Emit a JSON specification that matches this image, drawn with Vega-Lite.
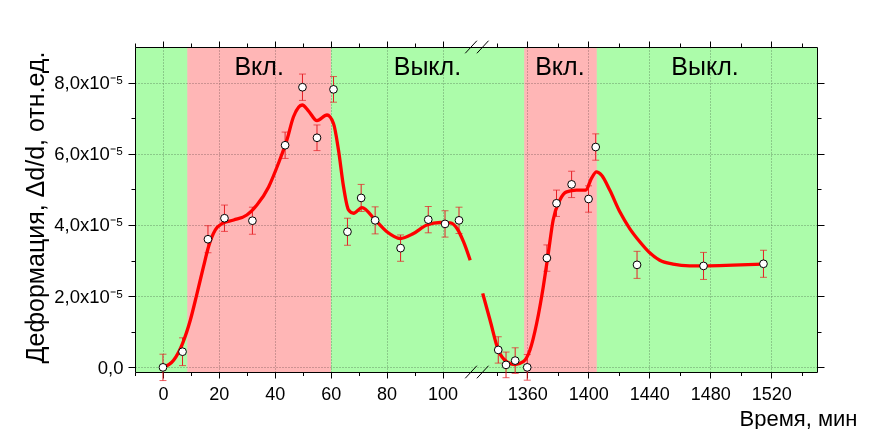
{
  "$schema": "https://vega.github.io/schema/vega-lite/v6.json",
  "width": 682,
  "height": 325,
  "autosize": {"type": "none"},
  "padding": {"left": 135, "top": 47, "right": 60, "bottom": 57},
  "background": "white",
  "config": {
    "view": {"stroke": null},
    "font": "Liberation Sans",
    "axis": {
      "domainColor": "black",
      "domainWidth": 1,
      "tickColor": "black",
      "tickWidth": 1,
      "labelColor": "black",
      "labelFont": "Liberation Sans",
      "labelFontSize": 18,
      "labelOverlap": false,
      "labelFlush": false,
      "titleColor": "black",
      "titleFont": "Liberation Sans",
      "titleFontWeight": "normal",
      "titleFontSize": 25,
      "gridColor": "#9a9a9a",
      "gridDash": [1, 2],
      "gridWidth": 1
    }
  },
  "datasets": {
    "bands": [
      {"state": "off", "start": -10, "end": 8.7},
      {"state": "on", "start": 8.7, "end": 60.1},
      {"state": "off", "start": 60.1, "end": 1358},
      {"state": "on", "start": 1358, "end": 1405.6},
      {"state": "off", "start": 1405.6, "end": 1550}
    ],
    "points": [
      {"t": 0, "strain": 0.0, "err": 0.37e-5},
      {"t": 7.0, "strain": 0.44e-5, "err": 0.39e-5},
      {"t": 16.1, "strain": 3.6e-5, "err": 0.38e-5},
      {"t": 22.0, "strain": 4.19e-5, "err": 0.37e-5},
      {"t": 32.0, "strain": 4.12e-5, "err": 0.38e-5},
      {"t": 43.7, "strain": 6.24e-5, "err": 0.37e-5},
      {"t": 49.9, "strain": 7.87e-5, "err": 0.37e-5},
      {"t": 55.1, "strain": 6.45e-5, "err": 0.36e-5},
      {"t": 61.0, "strain": 7.81e-5, "err": 0.36e-5},
      {"t": 66.0, "strain": 3.81e-5, "err": 0.38e-5},
      {"t": 70.9, "strain": 4.76e-5, "err": 0.38e-5},
      {"t": 75.9, "strain": 4.13e-5, "err": 0.38e-5},
      {"t": 85.0, "strain": 3.35e-5, "err": 0.37e-5},
      {"t": 94.9, "strain": 4.15e-5, "err": 0.37e-5},
      {"t": 100.9, "strain": 4.03e-5, "err": 0.37e-5},
      {"t": 105.9, "strain": 4.13e-5, "err": 0.37e-5},
      {"t": 1341, "strain": 0.49e-5, "err": 0.37e-5},
      {"t": 1346.1, "strain": 0.07e-5, "err": 0.36e-5},
      {"t": 1352.1, "strain": 0.19e-5, "err": 0.36e-5},
      {"t": 1360, "strain": 0.0, "err": 0.36e-5},
      {"t": 1372.9, "strain": 3.07e-5, "err": 0.37e-5},
      {"t": 1379.2, "strain": 4.61e-5, "err": 0.37e-5},
      {"t": 1389.1, "strain": 5.14e-5, "err": 0.37e-5},
      {"t": 1400.2, "strain": 4.73e-5, "err": 0.37e-5},
      {"t": 1404.9, "strain": 6.19e-5, "err": 0.37e-5},
      {"t": 1432.0, "strain": 2.88e-5, "err": 0.38e-5},
      {"t": 1475.6, "strain": 2.85e-5, "err": 0.38e-5},
      {"t": 1514.9, "strain": 2.91e-5, "err": 0.38e-5}
    ],
    "fit": [
      {"seg": "a", "t": 0, "strain": 0.0},
      {"seg": "a", "t": 3.8, "strain": 0.2e-5},
      {"seg": "a", "t": 7.0, "strain": 0.67e-5},
      {"seg": "a", "t": 9.8, "strain": 1.33e-5},
      {"seg": "a", "t": 12.2, "strain": 2.08e-5},
      {"seg": "a", "t": 14.5, "strain": 2.83e-5},
      {"seg": "a", "t": 16.3, "strain": 3.39e-5},
      {"seg": "a", "t": 18.7, "strain": 3.86e-5},
      {"seg": "a", "t": 21.1, "strain": 4.04e-5},
      {"seg": "a", "t": 25.3, "strain": 4.14e-5},
      {"seg": "a", "t": 30.0, "strain": 4.28e-5},
      {"seg": "a", "t": 33.6, "strain": 4.56e-5},
      {"seg": "a", "t": 37.8, "strain": 5.07e-5},
      {"seg": "a", "t": 41.3, "strain": 5.73e-5},
      {"seg": "a", "t": 44.3, "strain": 6.38e-5},
      {"seg": "a", "t": 46.7, "strain": 7.04e-5},
      {"seg": "a", "t": 49.8, "strain": 7.37e-5},
      {"seg": "a", "t": 52.1, "strain": 7.2e-5},
      {"seg": "a", "t": 55.1, "strain": 6.93e-5},
      {"seg": "a", "t": 58.7, "strain": 7.09e-5},
      {"seg": "a", "t": 61.0, "strain": 6.85e-5},
      {"seg": "a", "t": 62.8, "strain": 6.1e-5},
      {"seg": "a", "t": 64.6, "strain": 5.07e-5},
      {"seg": "a", "t": 66.4, "strain": 4.42e-5},
      {"seg": "a", "t": 68.2, "strain": 4.33e-5},
      {"seg": "a", "t": 71.2, "strain": 4.49e-5},
      {"seg": "a", "t": 75.9, "strain": 4.14e-5},
      {"seg": "a", "t": 80.1, "strain": 3.81e-5},
      {"seg": "a", "t": 84.9, "strain": 3.62e-5},
      {"seg": "a", "t": 89.6, "strain": 3.76e-5},
      {"seg": "a", "t": 94.4, "strain": 4.0e-5},
      {"seg": "a", "t": 99.2, "strain": 4.07e-5},
      {"seg": "a", "t": 102.8, "strain": 4.06e-5},
      {"seg": "a", "t": 105.2, "strain": 3.9e-5},
      {"seg": "a", "t": 107.5, "strain": 3.53e-5},
      {"seg": "a", "t": 109.9, "strain": 3.01e-5},
      {"seg": "b", "t": 1330.8, "strain": 2.08e-5},
      {"seg": "b", "t": 1335.6, "strain": 1.33e-5},
      {"seg": "b", "t": 1341, "strain": 0.49e-5},
      {"seg": "b", "t": 1346.5, "strain": 0.16e-5},
      {"seg": "b", "t": 1352, "strain": 0.08e-5},
      {"seg": "b", "t": 1357.4, "strain": 0.16e-5},
      {"seg": "b", "t": 1361.8, "strain": 0.49e-5},
      {"seg": "b", "t": 1366.2, "strain": 1.24e-5},
      {"seg": "b", "t": 1370.5, "strain": 2.26e-5},
      {"seg": "b", "t": 1373.8, "strain": 3.2e-5},
      {"seg": "b", "t": 1377, "strain": 4.14e-5},
      {"seg": "b", "t": 1381.4, "strain": 4.7e-5},
      {"seg": "b", "t": 1385.8, "strain": 4.93e-5},
      {"seg": "b", "t": 1392.3, "strain": 4.98e-5},
      {"seg": "b", "t": 1398.4, "strain": 4.98e-5},
      {"seg": "b", "t": 1402.1, "strain": 5.31e-5},
      {"seg": "b", "t": 1405.4, "strain": 5.49e-5},
      {"seg": "b", "t": 1408.7, "strain": 5.4e-5},
      {"seg": "b", "t": 1414.1, "strain": 4.98e-5},
      {"seg": "b", "t": 1420.7, "strain": 4.37e-5},
      {"seg": "b", "t": 1427.2, "strain": 3.9e-5},
      {"seg": "b", "t": 1433.8, "strain": 3.53e-5},
      {"seg": "b", "t": 1440.3, "strain": 3.22e-5},
      {"seg": "b", "t": 1446.9, "strain": 3.01e-5},
      {"seg": "b", "t": 1455.6, "strain": 2.9e-5},
      {"seg": "b", "t": 1466.5, "strain": 2.85e-5},
      {"seg": "b", "t": 1475.9, "strain": 2.85e-5},
      {"seg": "b", "t": 1494.9, "strain": 2.87e-5},
      {"seg": "b", "t": 1514.5, "strain": 2.9e-5}
    ],
    "labels": [
      {"label": "Вкл.", "t": 34.4},
      {"label": "Выкл.", "t": 94.6},
      {"label": "Вкл.", "t": 1381.4},
      {"label": "Выкл.", "t": 1476.6}
    ]
  },
  "resolve": {"axis": {"x": "independent", "y": "independent"}},
  "layer": [
    {
      "data": {"name": "bands"},
      "mark": {"type": "rect", "blend": "multiply"},
      "encoding": {
        "x": {
          "field": "start", "type": "quantitative",
          "scale": {"type": "linear", "domain": [-10, 112.3, 1327, 1550], "range": [0, 341.9, 341.9, 682], "nice": false, "zero": false},
          "axis": {
            "orient": "bottom",
            "values": [0, 20, 40, 60, 80, 100, 1360, 1400, 1440, 1480, 1520],
            "format": "d",
            "tickSize": 6,
            "labelPadding": 7,
            "grid": true,
            "title": "Время, мин",
            "titleFontSize": 22,
            "titleAlign": "left",
            "titleBaseline": "alphabetic",
            "titleX": 604,
            "titleY": 53
          }
        },
        "x2": {"field": "end"},
        "color": {
          "field": "state", "type": "nominal",
          "scale": {"domain": ["on", "off"], "range": ["#ffb6b6", "#acfcaa"]},
          "legend": null
        }
      }
    },
    {
      "data": {"name": "points"},
      "mark": {"type": "errorbar", "ticks": {"size": 7, "thickness": 1}, "color": "#e61e24", "thickness": 1},
      "encoding": {
        "x": {
          "field": "t", "type": "quantitative",
          "scale": {"type": "linear", "domain": [-10, 112.3, 1327, 1550], "range": [0, 341.9, 341.9, 682], "nice": false, "zero": false},
          "axis": {
            "orient": "top",
            "values": [0, 20, 40, 60, 80, 100, 1360, 1400, 1440, 1480, 1520],
            "labels": false,
            "tickSize": 6,
            "grid": false,
            "title": null
          }
        },
        "y": {
          "field": "strain", "type": "quantitative",
          "scale": {"domain": [-1.3e-6, 9.0e-5], "nice": false, "zero": false},
          "axis": {
            "orient": "left",
            "values": [0, 2e-5, 4e-5, 6e-5, 8e-5],
            "labelExpr": "datum.value == 0 ? '0,0' : replace(format(datum.value * 1e5, '.1f'), '.', ',') + 'x10⁻⁵'",
            "labelFontSize": 18.5,
            "tickSize": 7,
            "labelPadding": 5,
            "grid": true,
            "title": "Деформация, Δd/d, отн.ед.",
            "titleAngle": 270,
            "titleAlign": "center",
            "titleBaseline": "alphabetic",
            "titleX": -92,
            "titleY": 160
          }
        },
        "yError": {"field": "err"}
      }
    },
    {
      "data": {"name": "fit"},
      "mark": {"type": "line", "color": "#ff0000", "strokeWidth": 3.3, "interpolate": "monotone"},
      "encoding": {
        "x": {
          "field": "t", "type": "quantitative",
          "scale": {"type": "linear", "domain": [-10, 112.3, 1327, 1550], "range": [0, 341.9, 341.9, 682], "nice": false, "zero": false},
          "axis": {
            "orient": "bottom",
            "values": [-10, 10, 30, 50, 70, 90, 1340, 1380, 1420, 1460, 1500, 1540],
            "labels": false,
            "domain": false,
            "tickSize": 3.5,
            "grid": false,
            "title": null
          }
        },
        "y": {
          "field": "strain", "type": "quantitative",
          "scale": {"domain": [-1.3e-6, 9.0e-5], "nice": false, "zero": false},
          "axis": {
            "orient": "left",
            "values": [1e-5, 3e-5, 5e-5, 7e-5],
            "labels": false,
            "domain": false,
            "tickSize": 4,
            "grid": false,
            "title": null
          }
        },
        "detail": {"field": "seg", "type": "nominal"}
      }
    },
    {
      "data": {"name": "points"},
      "mark": {"type": "point", "shape": "circle", "filled": true, "fill": "white", "stroke": "black", "strokeWidth": 1, "size": 60, "opacity": 1},
      "encoding": {
        "x": {
          "field": "t", "type": "quantitative",
          "scale": {"type": "linear", "domain": [-10, 112.3, 1327, 1550], "range": [0, 341.9, 341.9, 682], "nice": false, "zero": false},
          "axis": {
            "orient": "top",
            "values": [-10, 10, 30, 50, 70, 90, 1340, 1380, 1420, 1460, 1500, 1540],
            "labels": false,
            "domain": false,
            "tickSize": 4,
            "grid": false,
            "title": null
          }
        },
        "y": {
          "field": "strain", "type": "quantitative",
          "scale": {"domain": [-1.3e-6, 9.0e-5], "nice": false, "zero": false},
          "axis": {
            "orient": "right",
            "values": [0, 2e-5, 4e-5, 6e-5, 8e-5],
            "labels": false,
            "tickSize": 7,
            "grid": false,
            "title": null
          }
        }
      }
    },
    {
      "data": {"name": "labels"},
      "mark": {"type": "text", "font": "Liberation Sans", "fontSize": 25, "baseline": "alphabetic", "align": "center", "color": "black"},
      "encoding": {
        "x": {
          "field": "t", "type": "quantitative",
          "scale": {"type": "linear", "domain": [-10, 112.3, 1327, 1550], "range": [0, 341.9, 341.9, 682], "nice": false, "zero": false},
          "axis": null
        },
        "y": {
          "datum": 8.21e-5, "type": "quantitative",
          "scale": {"domain": [-1.3e-6, 9.0e-5], "nice": false, "zero": false},
          "axis": {
            "orient": "right",
            "values": [1e-5, 3e-5, 5e-5, 7e-5],
            "labels": false,
            "domain": false,
            "tickSize": 4,
            "grid": false,
            "title": null
          }
        },
        "text": {"field": "label"}
      }
    },
    {
      "data": {"values": [{"edge": "top"}]},
      "mark": {"type": "point", "shape": "M-1,0.54L0,-0.54M0,0.54L1,-0.54", "filled": false, "stroke": "black", "strokeWidth": 1, "size": 543, "opacity": 1},
      "encoding": {
        "x": {"datum": 1327, "type": "quantitative", "axis": null},
        "y": {"datum": 9.0e-5, "type": "quantitative", "axis": null}
      }
    },
    {
      "data": {"values": [{"edge": "bottom"}]},
      "mark": {"type": "point", "shape": "M-1,0.54L0,-0.54M0,0.54L1,-0.54", "filled": false, "stroke": "black", "strokeWidth": 1, "size": 543, "opacity": 1},
      "encoding": {
        "x": {"datum": 1327, "type": "quantitative", "axis": null},
        "y": {"datum": -1.3e-6, "type": "quantitative", "axis": null}
      }
    }
  ]
}
